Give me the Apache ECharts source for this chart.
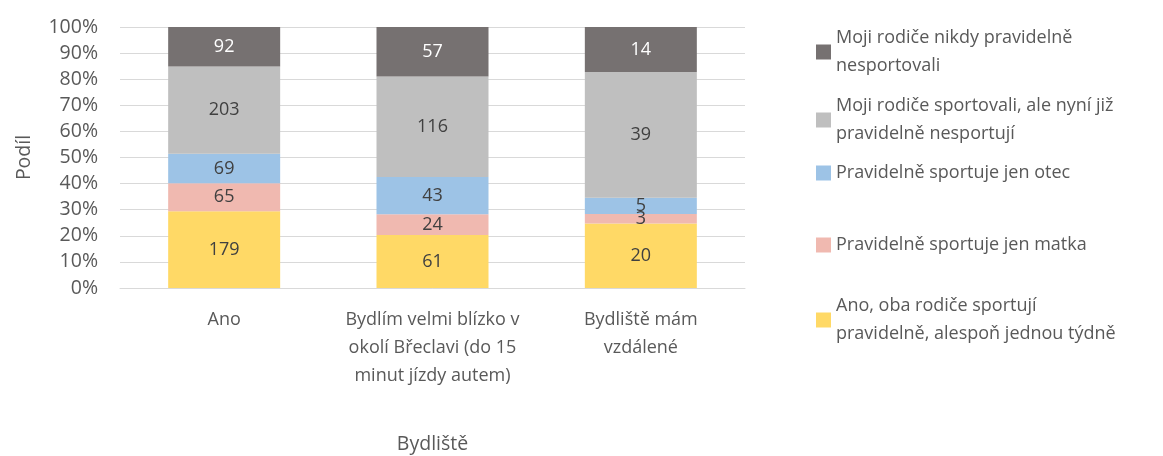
<!DOCTYPE html>
<html>
<head>
    <meta charset="utf-8">
    <title>Bydliště</title>
    <script src="https://cdn.jsdelivr.net/npm/echarts@6/dist/echarts.min.js"></script>
    <style>
        html, body { margin: 0; padding: 0; background: #fff; }
        #chart1 { width: 1163px; height: 456px; }
    </style>
</head>
<body>
<div id="chart1"></div>
<script type="text/javascript">
    // kategorie (osa x)
    var categories = ['Ano', 'Bydlím velmi blízko v\nokolí Břeclavi (do 15\nminut jízdy autem)', 'Bydliště mám\nvzdálené'];
    // počty odpovědí, odspodu nahoru
    var obaRodice = [179, 61, 20];
    var jenMatka = [65, 24, 3];
    var jenOtec = [69, 43, 5];
    var drive = [203, 116, 39];
    var nikdy = [92, 57, 14];
    var yTicks = ['0%', '10%', '20%', '30%', '40%', '50%', '60%', '70%', '80%', '90%', '100%'];

    var seriesNames = [
        'Ano, oba rodiče sportují\npravidelně, alespoň jednou týdně',
        'Pravidelně sportuje jen matka',
        'Pravidelně sportuje jen otec',
        'Moji rodiče sportovali, ale nyní již\npravidelně nesportují',
        'Moji rodiče nikdy pravidelně\nnesportovali'
    ];
    var seriesData = [obaRodice, jenMatka, jenOtec, drive, nikdy];
    var colors = ['#FFD966', '#F0B9B0', '#9DC3E6', '#BFBFBF', '#767171'];
    var labelColors = ['#404040', '#404040', '#404040', '#404040', '#ffffff'];

    var totals = categories.map(function (c, i) {
        return seriesData.reduce(function (s, arr) { return s + arr[i]; }, 0);
    });

    var font = '"Open Sans", sans-serif';
    var series = seriesData.map(function (arr, k) {
        return {
            name: seriesNames[k],
            type: 'bar',
            stack: 'total',
            barWidth: 112,
            itemStyle: { color: colors[k] },
            label: {
                show: true,
                position: 'inside',
                color: labelColors[k],
                fontFamily: font,
                fontSize: 18,
                formatter: function (p) { return arr[p.dataIndex]; }
            },
            data: arr.map(function (v, i) { return v / totals[i] * 100; })
        };
    });

    // legenda – každá položka zvlášť (pořadí shora)
    var legendTops = [19, 87, 154, 226, 287];
    var legends = [4, 3, 2, 1, 0].map(function (k, j) {
        return {
            data: [seriesNames[k]],
            left: 811,
            top: legendTops[j],
            orient: 'vertical',
            itemWidth: 15,
            itemHeight: 15,
            icon: 'rect',
            itemGap: 6,
            selectedMode: false,
            textStyle: { color: '#595959', fontFamily: font, fontSize: 18, lineHeight: 28 }
        };
    });

    var myChart1 = echarts.init(document.getElementById('chart1'));
    myChart1.setOption({
        animation: false,
        legend: legends,
        grid: { left: 120, right: 418, top: 27, bottom: 168, outerBoundsMode: 'none' },
        xAxis: {
            type: 'category',
            data: categories,
            name: 'Bydliště',
            nameLocation: 'middle',
            nameGap: 146,
            nameTextStyle: { color: '#595959', fontFamily: font, fontSize: 19.5 },
            axisTick: { show: false },
            axisLine: { lineStyle: { color: '#D9D9D9', width: 1 } },
            axisLabel: { color: '#595959', fontFamily: font, fontSize: 18, lineHeight: 28, margin: 18, interval: 0 }
        },
        yAxis: {
            type: 'value',
            min: 0,
            max: 100,
            interval: 10,
            name: 'Podíl',
            nameLocation: 'middle',
            nameGap: 86,
            nameTextStyle: { color: '#595959', fontFamily: font, fontSize: 19.5 },
            axisLine: { show: false },
            axisTick: { show: false },
            splitLine: { lineStyle: { color: '#D9D9D9', width: 1 } },
            axisLabel: {
                color: '#595959', fontFamily: font, fontSize: 19.5, margin: 22,
                formatter: function (v) { return yTicks[Math.round(v / 10)]; }
            }
        },
        series: series
    });
</script>
</body>
</html>
